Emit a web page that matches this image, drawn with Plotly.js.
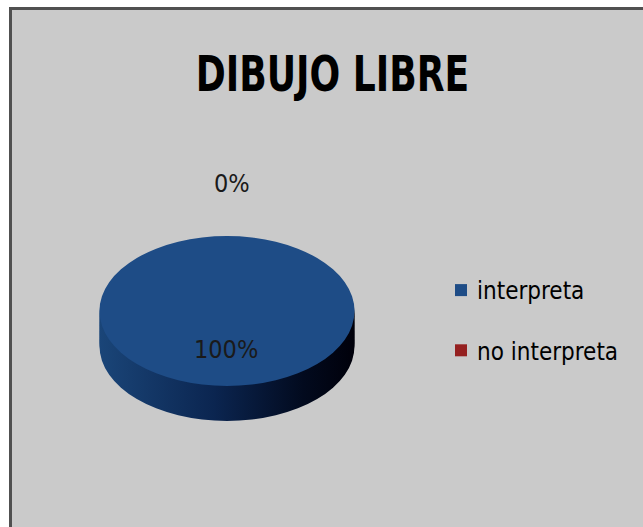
<!DOCTYPE html>
<html><head><meta charset="utf-8">
<script src="https://cdn.plot.ly/plotly-3.0.1.min.js"></script>
<style>
html,body{margin:0;padding:0;background:#fff;width:643px;height:527px;overflow:hidden}
#frame{position:absolute;left:9px;top:7px;border-left:3px solid #505050;border-top:3px solid #505050;}
#chart{width:631px;height:517px;}
</style></head><body>
<div id="frame"><div id="chart"></div></div>
<script>
const chartTitle = 'DIBUJO LIBRE';
const categories = ['interpreta', 'no interpreta'];
const values = [100, 0];
const colors = ['#1e4c86', '#952020'];

const FONT = '"Liberation Sans Narrow", "DejaVu Sans Condensed", "Open Sans", sans-serif';
const W = 631, H = 517;
const cxPx = 215, cyPx = 301, R = 127.5;       // pie top face (unsquashed)
const squash = 75 / 127.5;                     // ellipse ratio
const depthPx = 35;                            // visible side depth
const layers = 12;

function dom(cx, cy) {
  return {
    x: [(cx - R) / W, (cx + R) / W],
    y: [(H - cy - R) / H, (H - cy + R) / H]
  };
}

const traces = [];
for (let i = layers; i >= 1; i--) {
  const off = depthPx / squash * i / layers;
  traces.push({
    type: 'pie', labels: categories, values: values,
    marker: {colors: ['#0b2550', '#400a0a'], line: {width: 0}},
    textinfo: 'none', hoverinfo: 'skip', showlegend: false, sort: false,
    domain: dom(cxPx, cyPx + off)
  });
}
traces.push({
  type: 'pie', labels: categories, values: values,
  marker: {colors: colors, line: {width: 0}},
  textinfo: 'none', sort: false, direction: 'clockwise',
  domain: dom(cxPx, cyPx)
});

const total = values.reduce((a, b) => a + b, 0);
const pct = values.map(v => Math.round(v / total * 100) + '%');
const labelPos = [[214, 339], [220, 173]];
const annotations = pct.map((t, i) => ({
  text: t, xref: 'paper', yref: 'paper',
  x: labelPos[i][0] / W, y: (H - labelPos[i][1]) / H,
  xanchor: 'center', yanchor: 'middle', showarrow: false,
  font: {family: FONT, size: 25, color: '#1a1a1a'}
}));

const layout = {
  width: W, height: H,
  margin: {l: 0, r: 0, t: 0, b: 0},
  paper_bgcolor: '#cacaca', plot_bgcolor: '#cacaca',
  title: {
    text: '<b>' + chartTitle + '</b>', xref: 'container', yref: 'container',
    x: 320.5 / W, xanchor: 'center', y: 1 - 63.5 / H, yanchor: 'middle',
    font: {family: FONT, size: 49, color: '#000'}
  },
  showlegend: true,
  legend: {
    x: 429 / W, xanchor: 'left', y: (H - 258) / H, yanchor: 'top',
    bgcolor: 'rgba(0,0,0,0)', font: {family: FONT, size: 24, color: '#000'}
  },
  annotations: annotations
};

const gd = document.getElementById('chart');
Plotly.newPlot(gd, traces, layout, {staticPlot: true, displayModeBar: false}).then(() => {
  const NS = 'http://www.w3.org/2000/svg';
  const svg = gd.querySelector('.main-svg');
  let defs = svg.querySelector('defs');
  if (!defs) { defs = document.createElementNS(NS, 'defs'); svg.insertBefore(defs, svg.firstChild); }
  const grad = document.createElementNS(NS, 'linearGradient');
  grad.setAttribute('id', 'sideGrad');
  grad.setAttribute('x1', '0'); grad.setAttribute('x2', '1');
  grad.setAttribute('y1', '0'); grad.setAttribute('y2', '0');
  [['0', '#1a4578'], ['0.45', '#0b2550'], ['0.8', '#020a1e'], ['1', '#00000a']].forEach(s => {
    const st = document.createElementNS(NS, 'stop');
    st.setAttribute('offset', s[0]); st.setAttribute('stop-color', s[1]);
    grad.appendChild(st);
  });
  defs.appendChild(grad);
  const groups = gd.querySelectorAll('.pielayer .trace');
  groups.forEach((g, i) => {
    if (i < layers) {
      g.querySelectorAll('path.surface').forEach(p => { p.style.fill = 'url(#sideGrad)'; });
    }
  });
  const cy = gd.calcdata[layers][0].cy;
  gd.querySelector('.pielayer').setAttribute('transform',
    'matrix(1,0,0,' + squash + ',0,' + (cy * (1 - squash)) + ')');

  // narrow the bold title to a Calibri-like width
  const tt = gd.querySelector('.gtitle');
  if (tt) {
    const tx = parseFloat(tt.getAttribute('x')) || 0;
    const sx = 0.82;
    tt.setAttribute('transform', 'matrix(' + sx + ',0,0,1,' + (tx * (1 - sx)) + ',0)');
  }

  // legend: wider gap between entries, text closer to swatch
  const sb = gd.querySelector('.legend .scrollbox');
  if (sb) sb.removeAttribute('clip-path');
  const lg = gd.querySelector('.legend');
  if (lg) lg.removeAttribute('clip-path');
  const items = gd.querySelectorAll('.legend .traces');
  items.forEach((it, i) => {
    const txt = it.querySelector('text.legendtext');
    if (txt) txt.setAttribute('x', 36);
  });
  if (items.length > 1) {
    const t = items[1].getAttribute('transform');
    const m = /translate\(([-\d.]+)[ ,]+([-\d.]+)\)/.exec(t);
    if (m) items[1].setAttribute('transform', 'translate(' + m[1] + ',' + (parseFloat(m[2]) + 26) + ')');
  }
});
</script>
</body></html>
